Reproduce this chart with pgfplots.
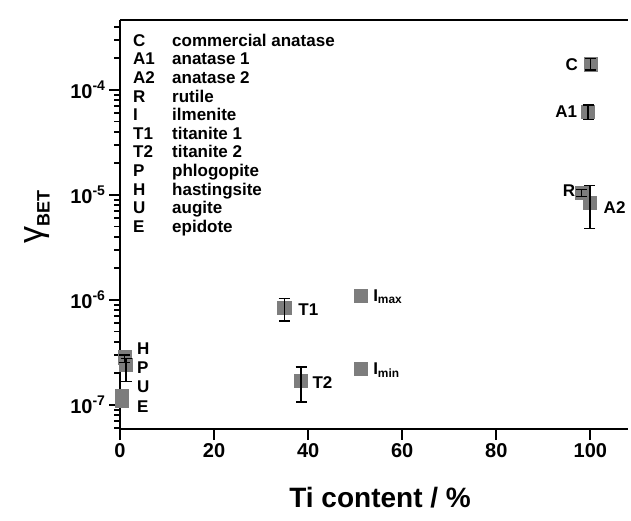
\documentclass[border=0pt]{standalone}
\usepackage{fontspec}
\setmainfont{Liberation Sans}
\usepackage{pgfplots}
\pgfplotsset{compat=1.18}
\usepackage{pgfplotstable}

\definecolor{markgray}{HTML}{7D7D7D}

% all samples: Ti content (%) and uptake coefficient
\pgfplotstableread{
x     y
100   1.76e-4
99.5  6.2e-5
98.1  1.05e-5
99.9  8.4e-6
34.9  8.4e-7
38.5  1.7e-7
51.1  1.09e-6
51.1  2.22e-7
1.0   2.85e-7
1.3   2.4e-7
0.4   1.22e-7
0.4   1.10e-7
}\markdata

% samples with measured scatter
\pgfplotstableread{
x     y        ep       em
100   1.76e-4  0.24e-4  0.21e-4
99.5  6.2e-5   1.0e-5   1.0e-5
98.1  1.05e-5  0.08e-5  0.08e-5
99.9  8.4e-6   3.9e-6   3.6e-6
34.9  8.4e-7   2.0e-7   2.1e-7
38.5  1.7e-7   0.6e-7   0.63e-7
1.0   2.85e-7  0.15e-7  0.3e-7
1.3   2.4e-7   0.35e-7  0.72e-7
}\errdata

\begin{document}
\begin{tikzpicture}
\useasboundingbox (-120pt,-92pt) rectangle (511pt,429pt);
\begin{axis}[
  at={(0pt,0pt)}, anchor=south west,
  scale only axis, width=508pt, height=409pt,
  xmin=0, xmax=108,
  ymode=log, ymin=5.9e-8, ymax=4.64e-4,
  clip=false, clip marker paths=true,
  axis x line=box, axis y line=left,
  x axis line style={-}, y axis line style={-},
  axis line style={line width=2pt, black},
  xtick pos=bottom, ytick pos=left,
  tick align=outside,
  major tick length=11pt, minor tick length=6pt,
  every major tick/.append style={line width=2pt, black},
  every minor tick/.append style={line width=1.8pt, black},
  xtick={0,20,40,60,80,100},
  xticklabels={0,20,40,60,80,100},
  ytick={1e-7,1e-6,1e-5,1e-4},
  minor ytick={6e-8,7e-8,8e-8,9e-8,
    2e-7,3e-7,4e-7,5e-7,6e-7,7e-7,8e-7,9e-7,
    2e-6,3e-6,4e-6,5e-6,6e-6,7e-6,8e-6,9e-6,
    2e-5,3e-5,4e-5,5e-5,6e-5,7e-5,8e-5,9e-5,
    2e-4,3e-4,4e-4},
  yticklabels={10\textsuperscript{-7},10\textsuperscript{-6},10\textsuperscript{-5},10\textsuperscript{-4}},
  /pgf/number format/assume math mode=true,
  ticklabel style={font=\bfseries\fontsize{20}{24}\selectfont},
  xlabel={Ti content / \%},
  xlabel style={font=\bfseries\fontsize{28}{32}\selectfont, at={(axis description cs:0.512,-0.169)}, anchor=center},
  ylabel={{\fontsize{34}{34}\selectfont γ}\raisebox{-7pt}{\bfseries\fontsize{18}{18}\selectfont BET}},
  ylabel style={at={(axis description cs:-0.163,0.518)}, anchor=center},
]
% sample points
\addplot[only marks, mark=square*, mark size=6.6pt,
  mark options={fill=markgray, draw=markgray, line width=0.5pt}]
  table[x=x, y=y] {\markdata};
% error bars on top of the points
\addplot[draw=none, mark=none, forget plot,
  error bars/.cd, y dir=both, y explicit,
  error bar style={draw=black, solid, line width=1.3pt},
  error mark options={draw=black, solid, rotate=90, mark size=5.5pt, line width=1.3pt}]
  table[x=x, y=y, y error plus=ep, y error minus=em] {\errdata};

% point labels
\begin{scope}[every node/.style={font=\bfseries\fontsize{17}{20}\selectfont, inner sep=0pt}]
\node[anchor=east] at (axis cs:97.4,1.76e-4) {C};
\node[anchor=east] at (axis cs:97.2,6.2e-5) {A1};
\node[anchor=east] at (axis cs:96.8,1.09e-5) {R};
\node[anchor=west] at (axis cs:102.8,7.53e-6) {A2};
\node[anchor=west] at (axis cs:37.9,8.04e-7) {T1};
\node[anchor=west] at (axis cs:40.9,1.65e-7) {T2};
\node[anchor=west] at (axis cs:53.8,1.07e-6) {I\textsubscript{max}};
\node[anchor=west] at (axis cs:53.8,2.15e-7) {I\textsubscript{min}};
\node[anchor=west] at (axis cs:3.6,3.47e-7) {H};
\node[anchor=west] at (axis cs:3.6,2.29e-7) {P};
\node[anchor=west] at (axis cs:3.6,1.48e-7) {U};
\node[anchor=west] at (axis cs:3.6,9.57e-8) {E};
\end{scope}

% key to the sample codes
\node[anchor=north west, inner sep=0pt, font=\bfseries\fontsize{17}{18.6}\selectfont]
  at (axis description cs:0.0256,0.968) {%
  \begin{tabular}{@{}p{39pt}@{}l@{}}
  C  & commercial anatase\\
  A1 & anatase 1\\
  A2 & anatase 2\\
  R  & rutile\\
  I  & ilmenite\\
  T1 & titanite 1\\
  T2 & titanite 2\\
  P  & phlogopite\\
  H  & hastingsite\\
  U  & augite\\
  E  & epidote
  \end{tabular}};
\end{axis}
\end{tikzpicture}
\end{document}
